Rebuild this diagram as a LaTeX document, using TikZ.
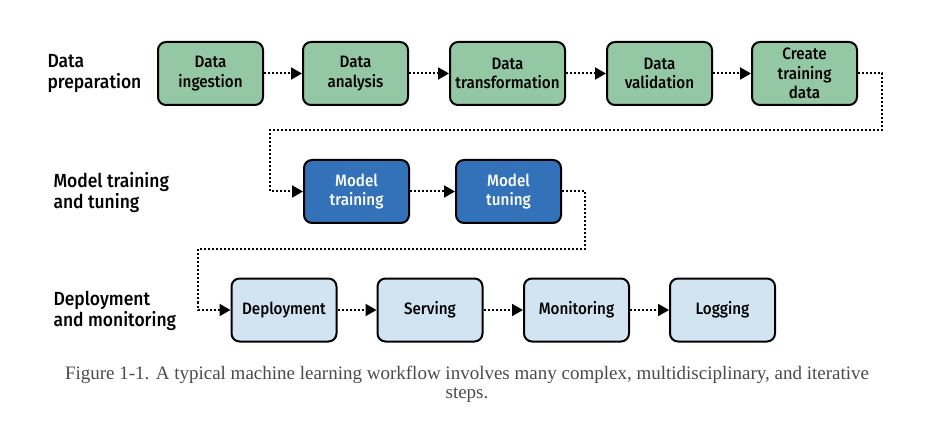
\documentclass[tikz,border=0pt]{standalone}
\usepackage{fontspec}
\setmainfont{Liberation Serif}
\newfontfamily\boxfont{Fira Sans Medium}[FakeStretch=0.92]
\usetikzlibrary{arrows.meta}
\definecolor{prepgreen}{HTML}{94C7A4}
\definecolor{trainblue}{HTML}{3371B8}
\definecolor{deploysky}{HTML}{D2E3F1}
\definecolor{captiongray}{HTML}{4A4A4A}
\begin{document}
\begin{tikzpicture}[x=1pt, y=-1pt,
    stagebox/.style={rectangle, rounded corners=8pt, draw=black, line width=2pt,
        minimum width=105pt, minimum height=63pt, align=center, inner sep=2pt,
        font=\boxfont\fontsize{16.5}{19.5}\selectfont},
    prepbox/.style={stagebox, fill=prepgreen},
    trainbox/.style={stagebox, fill=trainblue, text=white},
    deploybox/.style={stagebox, fill=deploysky},
    phase/.style={anchor=west, align=left, font=\boxfont\fontsize{19}{21}\selectfont},
    flow/.style={dotted, line width=2pt, -{Triangle[length=11pt, width=12pt]}}]
        \useasboundingbox (0,0) rectangle (952,430);

        % Data preparation row
        \node[phase] (preplabel) at (44,74) {Data\\preparation};
        \node[prepbox] (ingestion) at (210.5,73.5) {Data\\ingestion};
        \node[prepbox] (analysis) at (355.5,73.5) {Data\\analysis};
        \node[prepbox, minimum width=115pt] (transformation) at (507.5,73.5) {Data\\transformation};
        \node[prepbox] (validation) at (659.5,73.5) {Data\\validation};
        \node[prepbox] (createdata) at (804.5,73.5) {Create\\training\\data};

        \draw[flow] (ingestion) -- (analysis);
        \draw[flow] (analysis) -- (transformation);
        \draw[flow] (transformation) -- (validation);
        \draw[flow] (validation) -- (createdata);

        % Model training row
        \node[phase] (trainlabel) at (50,193) {Model training\\and tuning};
        \node[trainbox] (modeltraining) at (356.5,191.5) {Model\\training};
        \node[trainbox] (modeltuning) at (508.5,191.5) {Model\\tuning};

        \coordinate (turnone) at (882,130);
        \coordinate (turntwo) at (270,130);
        \draw[flow] (createdata.east) -| (turnone) -- (turntwo) |- (modeltraining.west);
        \draw[flow] (modeltraining) -- (modeltuning);

        % Deployment row
        \node[phase] (deploylabel) at (50,311) {Deployment\\and monitoring};
        \node[deploybox] (deployment) at (284,310) {Deployment};
        \node[deploybox] (serving) at (430,310) {Serving};
        \node[deploybox] (monitoring) at (576.5,310) {Monitoring};
        \node[deploybox] (logging) at (722.5,310) {Logging};

        \coordinate (turnthree) at (585,249);
        \coordinate (turnfour) at (198,249);
        \draw[flow] (modeltuning.east) -| (turnthree) -- (turnfour) |- (deployment.west);
        \draw[flow] (deployment) -- (serving);
        \draw[flow] (serving) -- (monitoring);
        \draw[flow] (monitoring) -- (logging);

        % Add caption
        \node[align=center, text=captiongray, font=\fontsize{19}{19}\selectfont] (caption) at (467,384.5)
            {Figure 1-1. A typical machine learning workflow involves many complex, multidisciplinary, and iterative\\steps.};
    \end{tikzpicture}
\end{document}
